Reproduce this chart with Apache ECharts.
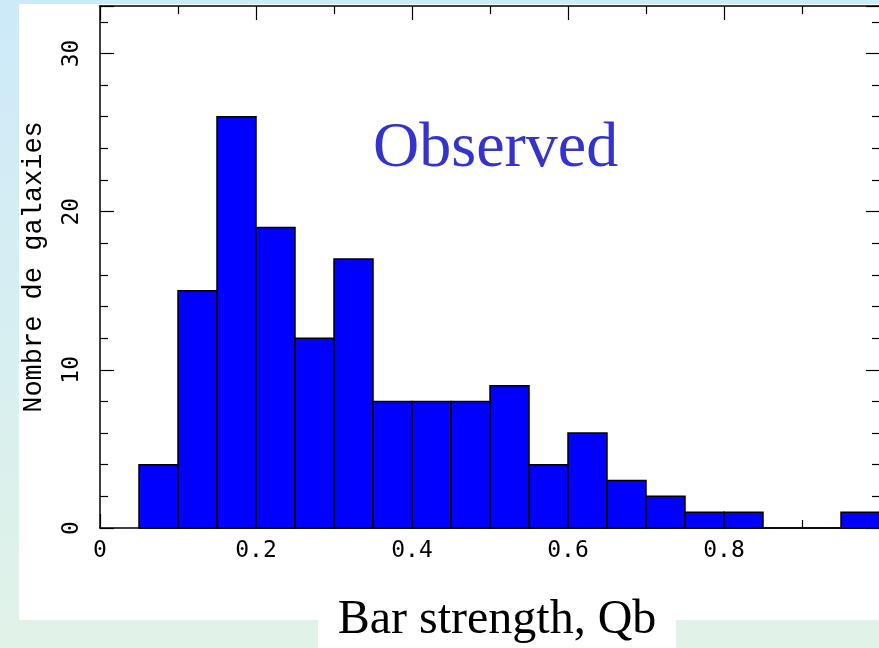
<!DOCTYPE html>
<html>
<head>
<meta charset="utf-8">
<script src="https://cdn.jsdelivr.net/npm/echarts@6/dist/echarts.min.js"></script>
<style>
  html, body { margin: 0; padding: 0; }
  #chart { width: 879px; height: 648px; }
</style>
</head>
<body>
<div id="chart"></div>
<script>
// Histogram of bar strength Qb: lower and upper edge of each bin, and galaxy counts
const binLow  = [0.05, 0.10, 0.15, 0.20, 0.25, 0.30, 0.35, 0.40, 0.45, 0.50, 0.55, 0.60, 0.65, 0.70, 0.75, 0.80, 0.85, 0.90, 0.95];
const binHigh = [0.10, 0.15, 0.20, 0.25, 0.30, 0.35, 0.40, 0.45, 0.50, 0.55, 0.60, 0.65, 0.70, 0.75, 0.80, 0.85, 0.90, 0.95, 1.00];
const counts  = [4, 15, 26, 19, 12, 17, 8, 8, 8, 9, 4, 6, 3, 2, 1, 1, 0, 0, 1];

const xTitle = 'Bar strength, Qb';
const yTitle = 'Nombre de galaxies';
const panelLabel = 'Observed';

const histData = binLow.map((lo, i) => [lo, binHigh[i], counts[i]]);

const tickFont = '"DejaVu Sans Mono", monospace';

const chart = echarts.init(document.getElementById('chart'));

const baseX = {
  type: 'value', min: 0, max: 1, interval: 0.2,
  axisLine: { show: true, onZero: false, lineStyle: { color: '#000', width: 1.5 } },
  axisTick: { show: true, inside: true, length: 14, lineStyle: { color: '#000', width: 1.2 } },
  minorTick: { show: true, splitNumber: 2, length: 8, lineStyle: { color: '#000', width: 1.2 } },
  splitLine: { show: false }
};
const baseY = {
  type: 'value', min: 0, max: 33, interval: 10,
  axisLine: { show: true, onZero: false, lineStyle: { color: '#000', width: 1.5 } },
  axisTick: { show: true, inside: true, length: 14, lineStyle: { color: '#000', width: 1.2 } },
  minorTick: { show: true, splitNumber: 5, length: 8, lineStyle: { color: '#000', width: 1.2 } },
  splitLine: { show: false }
};

chart.setOption({
  animation: false,
  backgroundColor: {
    type: 'linear', x: 0, y: 0, x2: 0, y2: 1,
    colorStops: [
      { offset: 0, color: '#cdeafa' },
      { offset: 1, color: '#e1f3e8' }
    ]
  },
  grid: { left: 100, top: 6, width: 780, height: 522, containLabel: false, outerBoundsMode: 'none' },
  graphic: [
    { type: 'rect', z: -10, silent: true, shape: { x: 19, y: 4, width: 860, height: 616 }, style: { fill: '#ffffff' } },
    { type: 'rect', z: -10, silent: true, shape: { x: 318, y: 600, width: 358, height: 48 }, style: { fill: '#ffffff' } },
    { type: 'text', left: 373, top: 117, silent: true,
      style: { text: panelLabel, fill: '#3434cc', font: '64px "Liberation Serif", serif' } }
  ],
  xAxis: [
    Object.assign({}, baseX, {
      position: 'bottom',
      name: xTitle, nameLocation: 'middle', nameGap: 68,
      nameTextStyle: { color: '#000', fontFamily: '"Liberation Serif", serif', fontSize: 48, padding: [0, 0, 0, 14] },
      axisLabel: {
        show: true, margin: 12, color: '#000', fontFamily: tickFont, fontSize: 23,
        showMaxLabel: false,
        formatter: v => (v === 0 ? '0' : v.toFixed(1))
      }
    }),
    Object.assign({}, baseX, { position: 'top', axisLabel: { show: false } })
  ],
  yAxis: [
    Object.assign({}, baseY, {
      position: 'left',
      name: yTitle, nameLocation: 'middle', nameGap: 53, nameRotate: 90,
      nameTextStyle: { color: '#000', fontFamily: '"Liberation Mono", monospace', fontSize: 27 },
      axisLabel: {
        show: true, rotate: 90, margin: 16, color: '#000', fontFamily: tickFont, fontSize: 23,
        formatter: v => (v % 10 === 0 ? String(v) : '')
      }
    }),
    Object.assign({}, baseY, { position: 'right', axisLabel: { show: false } })
  ],
  series: [{
    type: 'custom',
    xAxisIndex: 0, yAxisIndex: 0,
    data: histData,
    encode: { x: [0, 1], y: 2 },
    renderItem: (params, api) => {
      const lo = api.coord([api.value(0), api.value(2)]);
      const hi = api.coord([api.value(1), 0]);
      return {
        type: 'rect',
        shape: { x: lo[0], y: lo[1], width: hi[0] - lo[0], height: hi[1] - lo[1] },
        style: { fill: '#0000ff', stroke: '#000', lineWidth: 1.5 }
      };
    }
  }]
});
</script>
</body>
</html>
